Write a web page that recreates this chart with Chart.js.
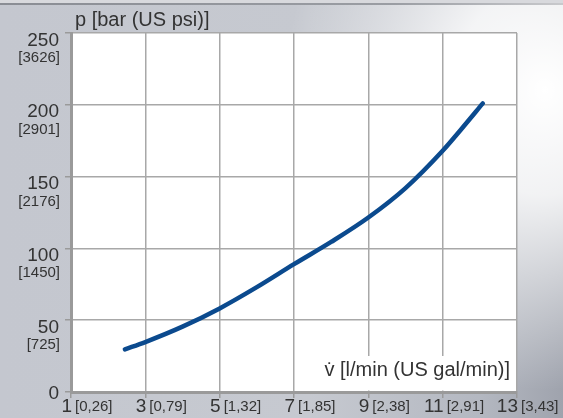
<!DOCTYPE html>
<html>
<head>
<meta charset="utf-8">
<script src="https://cdn.jsdelivr.net/npm/chart.js@4/dist/chart.umd.min.js"></script>
<style>
  html, body { margin: 0; padding: 0; }
  body {
    width: 563px; height: 418px; overflow: hidden; position: relative;
    background:
      radial-gradient(ellipse 260px 300px at 545px 90px, rgba(255,255,255,1) 0%, rgba(255,255,255,0.85) 35%, rgba(255,255,255,0) 100%),
      linear-gradient(to right, #c4c7cf 0%, #c6c9d0 55%, #b4b8c1 85%, #9fa3ad 100%);
  }
  #topline { position: absolute; left: 0; top: 3px; width: 563px; height: 2px; background: linear-gradient(to right, #8a8d94, #9a9da3 70%, #c8c9cc); }
  #toppart { position: absolute; left: 0; top: 0; width: 563px; height: 3px; background: #d8d9dd; }
  canvas { position: absolute; left: 0; top: 0; }
</style>
</head>
<body>
<div id="toppart"></div>
<div id="topline"></div>
<canvas id="c" width="563" height="418"></canvas>
<script>
// Data
const flowValues = [2.45, 3, 4, 5, 6, 7, 8, 9, 10, 11, 11.5, 12.08];
const pressureValues = [29.7, 34.8, 45.5, 58.2, 73, 89, 104.5, 121.5, 142, 168, 183, 201];

const xTickValues = [1, 3, 5, 7, 9, 11, 13];
const xTickSubLabels = ['[0,26]', '[0,79]', '[1,32]', '[1,85]', '[2,38]', '[2,91]', '[3,43]'];
const yTickValues = [0, 50, 100, 150, 200, 250];
const yTickSubLabels = ['', '[725]', '[1450]', '[2176]', '[2901]', '[3626]'];

const yTitle = 'p [bar (US psi)]';
const xTitle = 'v\u0307 [l/min (US gal/min)]';

const FONT = '"Liberation Sans", Arial, sans-serif';
const TEXT = '#333333';

const labelPlugin = {
  id: 'labels',
  beforeDraw(chart) {
    const { ctx, chartArea: a } = chart;
    ctx.save();
    ctx.fillStyle = '#ffffff';
    ctx.fillRect(a.left, a.top, a.right - a.left, a.bottom - a.top);
    ctx.restore();
  },
  afterDraw(chart) {
    const { ctx, chartArea: a } = chart;
    const xs = chart.scales.x, ys = chart.scales.y;
    ctx.save();
    ctx.fillStyle = TEXT;
    ctx.textBaseline = 'alphabetic';
    // y tick labels
    yTickValues.forEach((v, i) => {
      const py = ys.getPixelForValue(v);
      ctx.textAlign = 'right';
      ctx.font = '19px ' + FONT;
      if (yTickSubLabels[i]) {
        ctx.fillText(String(v), 59, py + 12.5);
        ctx.font = '15px ' + FONT;
        ctx.fillText(yTickSubLabels[i], 60, py + 29);
      } else {
        ctx.fillText(String(v), 59, py + 6.5);
      }
    });
    // x tick labels
    xTickValues.forEach((v, i) => {
      const px = xs.getPixelForValue(v);
      ctx.font = '19px ' + FONT;
      ctx.textAlign = 'right';
      ctx.fillText(String(v), px + 1, 411.5);
      ctx.font = '15px ' + FONT;
      ctx.textAlign = 'left';
      ctx.fillText(xTickSubLabels[i], px + 4, 411);
    });
    // y title
    ctx.font = '20px ' + FONT;
    ctx.textAlign = 'left';
    ctx.fillText(yTitle, 75, 26);
    // x title with white box
    ctx.fillStyle = '#ffffff';
    ctx.fillRect(320, 356, a.right - 321.5, a.bottom - 357.5);
    ctx.fillStyle = TEXT;
    ctx.textAlign = 'right';
    ctx.fillText(xTitle, 510, 376);
    ctx.restore();
  }
};

new Chart(document.getElementById('c'), {
  type: 'scatter',
  data: {
    datasets: [{
      data: flowValues.map((x, i) => ({ x: x, y: pressureValues[i] })),
      showLine: true,
      borderColor: '#0b4a8e',
      borderWidth: 4.5,
      borderCapStyle: 'round',
      cubicInterpolationMode: 'monotone',
      pointRadius: 0,
      fill: false
    }]
  },
  options: {
    responsive: false,
    animation: false,
    events: [],
    layout: { padding: { top: 33, right: 46, left: 0, bottom: 0 } },
    plugins: { legend: { display: false }, tooltip: { enabled: false } },
    scales: {
      x: {
        type: 'linear', min: 1, max: 13,
        ticks: { stepSize: 2, display: false },
        grid: { color: '#a8a8a8', lineWidth: 1.5, tickLength: 6, tickColor: '#9a9a9a' },
        border: { color: '#9a9a9a', width: 3 },
        afterFit(s) { s.height = 26; }
      },
      y: {
        type: 'linear', min: 0, max: 250,
        ticks: { stepSize: 50, display: false },
        grid: { color: '#a8a8a8', lineWidth: 1.5, tickLength: 6, tickColor: '#9a9a9a' },
        border: { color: '#9a9a9a', width: 3 },
        afterFit(s) { s.width = 71; }
      }
    }
  },
  plugins: [labelPlugin]
});
</script>
</body>
</html>
